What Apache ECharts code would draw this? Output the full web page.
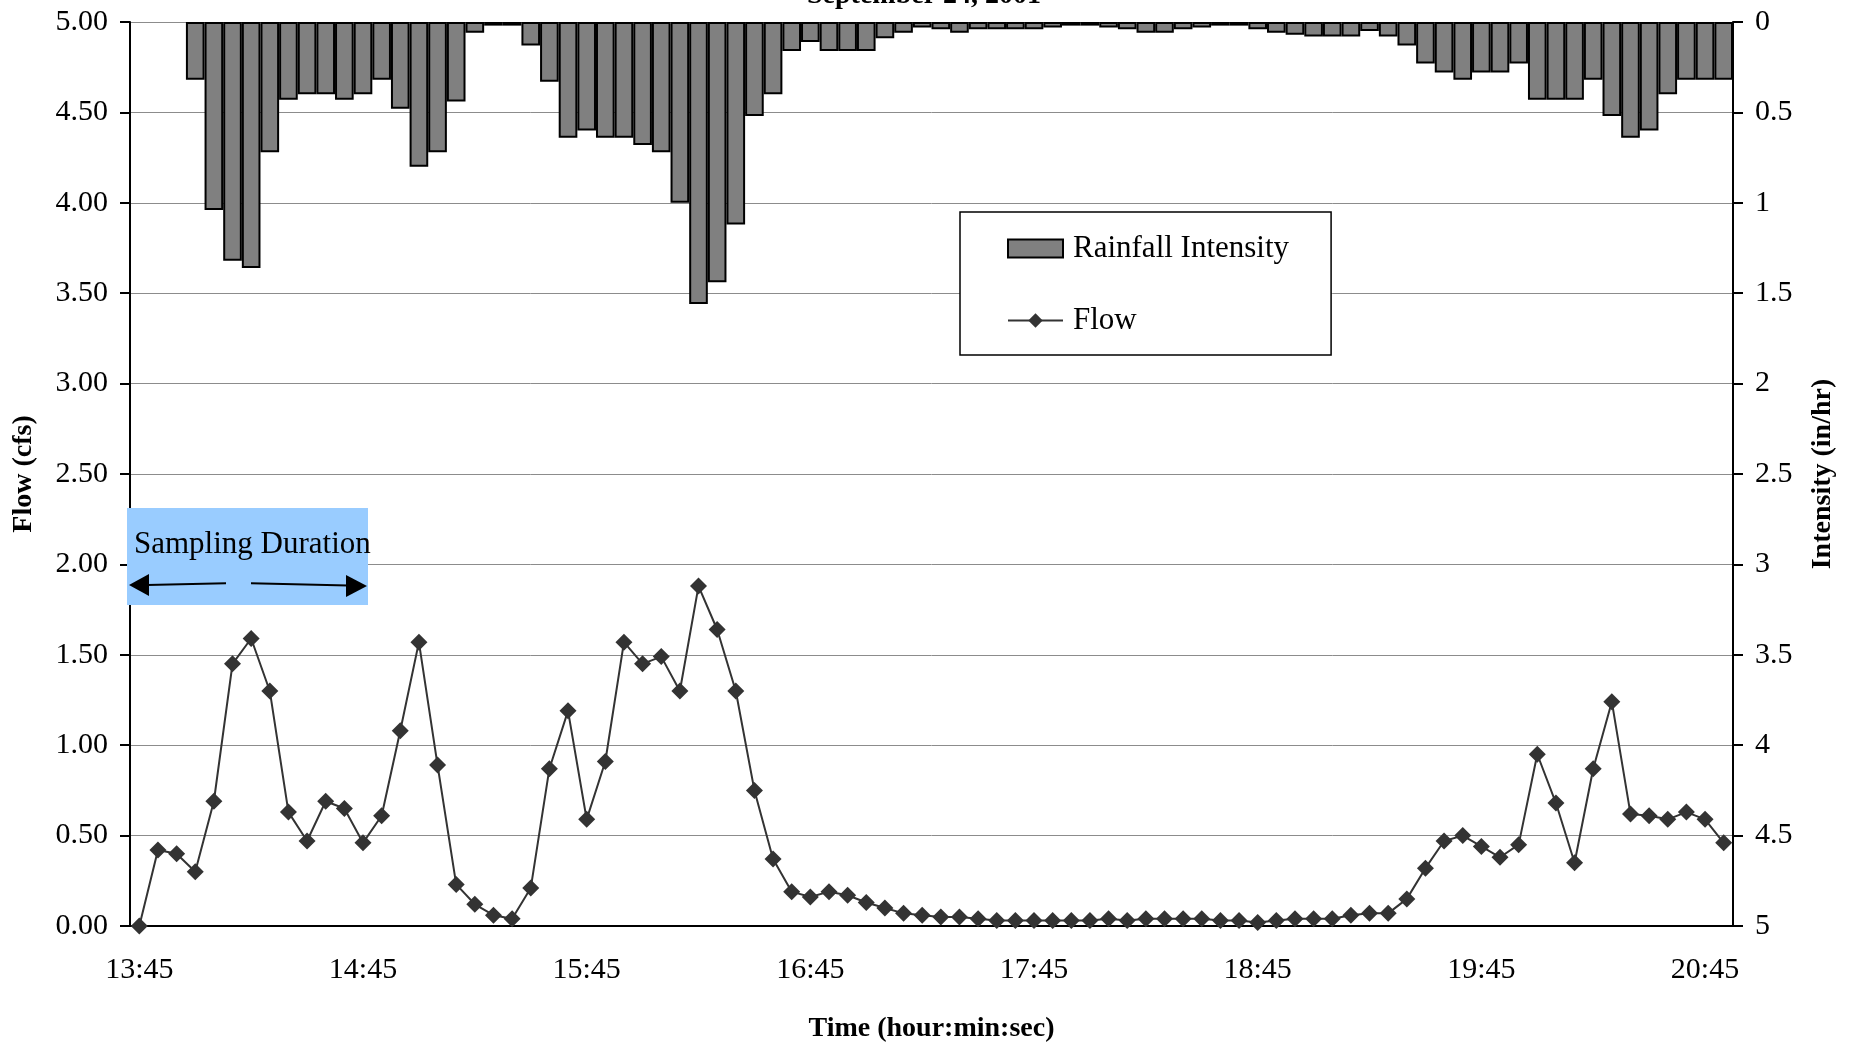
<!DOCTYPE html>
<html>
<head>
<meta charset="utf-8">
<title>Flow and Rainfall Intensity</title>
<script src="https://cdn.jsdelivr.net/npm/echarts@6/dist/echarts.min.js"></script>
<style>
	html, body { margin: 0; padding: 0; background: #fff; }
	#chart { width: 1856px; height: 1044px; }
</style>
</head>
<body>
<div id="chart"></div>
<script>
	// 5 minute steps, 13:45 - 20:50
	var times = [
		'13:45', '13:50', '13:55', '14:00', '14:05', '14:10', '14:15', '14:20', '14:25', '14:30', '14:35', '14:40',
		'14:45', '14:50', '14:55', '15:00', '15:05', '15:10', '15:15', '15:20', '15:25', '15:30', '15:35', '15:40',
		'15:45', '15:50', '15:55', '16:00', '16:05', '16:10', '16:15', '16:20', '16:25', '16:30', '16:35', '16:40',
		'16:45', '16:50', '16:55', '17:00', '17:05', '17:10', '17:15', '17:20', '17:25', '17:30', '17:35', '17:40',
		'17:45', '17:50', '17:55', '18:00', '18:05', '18:10', '18:15', '18:20', '18:25', '18:30', '18:35', '18:40',
		'18:45', '18:50', '18:55', '19:00', '19:05', '19:10', '19:15', '19:20', '19:25', '19:30', '19:35', '19:40',
		'19:45', '19:50', '19:55', '20:00', '20:05', '20:10', '20:15', '20:20', '20:25', '20:30', '20:35', '20:40',
		'20:45', '20:50'
	];

	// flow (cfs)
	var flow = [
		0.00, 0.42, 0.40, 0.30, 0.69, 1.45, 1.59, 1.30, 0.63, 0.47, 0.69, 0.65,
		0.46, 0.61, 1.08, 1.57, 0.89, 0.23, 0.12, 0.06, 0.04, 0.21, 0.87, 1.19,
		0.59, 0.91, 1.57, 1.45, 1.49, 1.30, 1.88, 1.64, 1.30, 0.75, 0.37, 0.19,
		0.16, 0.19, 0.17, 0.13, 0.10, 0.07, 0.06, 0.05, 0.05, 0.04, 0.03, 0.03,
		0.03, 0.03, 0.03, 0.03, 0.04, 0.03, 0.04, 0.04, 0.04, 0.04, 0.03, 0.03,
		0.02, 0.03, 0.04, 0.04, 0.04, 0.06, 0.07, 0.07, 0.15, 0.32, 0.47, 0.50,
		0.44, 0.38, 0.45, 0.95, 0.68, 0.35, 0.87, 1.24, 0.62, 0.61, 0.59, 0.63,
		0.59, 0.46
	];

	// rainfall intensity (in/hr)
	var rain = [
		null, null, null, 0.32, 1.04, 1.32, 1.36, 0.72, 0.43, 0.40, 0.40, 0.43,
		0.40, 0.32, 0.48, 0.80, 0.72, 0.44, 0.06, 0.02, 0.02, 0.13, 0.33, 0.64,
		0.60, 0.64, 0.64, 0.68, 0.72, 1.00, 1.56, 1.44, 1.12, 0.52, 0.40, 0.16,
		0.11, 0.16, 0.16, 0.16, 0.09, 0.06, 0.03, 0.04, 0.06, 0.04, 0.04, 0.04,
		0.04, 0.03, 0.02, 0.02, 0.03, 0.04, 0.06, 0.06, 0.04, 0.03, 0.02, 0.02,
		0.04, 0.06, 0.07, 0.08, 0.08, 0.08, 0.05, 0.08, 0.13, 0.23, 0.28, 0.32,
		0.28, 0.28, 0.23, 0.43, 0.43, 0.43, 0.32, 0.52, 0.64, 0.60, 0.40, 0.32,
		0.32, 0.32
	];

	var FONT = 'Liberation Serif';
	var axisLine = { show: true, lineStyle: { color: '#000', width: 2 } };
	var tickStyle = { color: '#000', width: 2 };
	var labelStyle = { fontFamily: FONT, fontSize: 30, color: '#000' };
	var nameStyle = { fontFamily: FONT, fontSize: 28, fontWeight: 'bold', color: '#000' };

	var chart = echarts.init(document.getElementById('chart'));

	var option = {
		animation: false,
		backgroundColor: '#fff',
		title: {
			text: 'September 24, 2001',
			left: 807,
			top: -18,
			padding: 0,
			textStyle: nameStyle
		},
		legend: {
			orient: 'vertical',
			left: 960,
			top: 212,
			itemWidth: 55,
			itemHeight: 18,
			itemGap: 41,
			padding: [21, 42, 19, 47],
			borderColor: '#000',
			borderWidth: 1.5,
			backgroundColor: '#fff',
			textStyle: { fontFamily: FONT, fontSize: 31, color: '#000', lineHeight: 30, padding: [0, 0, 0, 5] },
			data: [
				{ name: 'Rainfall Intensity', icon: 'rect', itemStyle: { color: '#808080', borderColor: '#000', borderWidth: 2 } },
				{ name: 'Flow' }
			]
		},
		// fixed plot box, no auto shrinking for the axis names
		grid: { left: 130, right: 123, top: 22, bottom: 118, outerBoundsMode: 'none' },
		xAxis: {
			type: 'category',
			data: times,
			boundaryGap: true,
			name: 'Time (hour:min:sec)',
			nameLocation: 'middle',
			nameGap: 89,
			nameTextStyle: nameStyle,
			axisLine: axisLine,
			axisTick: { interval: 0, length: 10, lineStyle: tickStyle },
			axisLabel: Object.assign({ interval: 11, margin: 29 }, labelStyle),
			splitLine: { show: false }
		},
		yAxis: [{
			type: 'value',
			min: 0,
			max: 5,
			interval: 0.5,
			name: 'Flow (cfs)',
			nameLocation: 'middle',
			nameGap: 92,
			nameRotate: 90,
			nameTextStyle: nameStyle,
			axisLine: axisLine,
			axisTick: { show: true, length: 10, lineStyle: tickStyle },
			axisLabel: Object.assign({ margin: 22, formatter: function (v) { return v.toFixed(2); } }, labelStyle),
			splitLine: { show: true, lineStyle: { color: '#8c8c8c', width: 1 } }
		}, {
			type: 'value',
			position: 'right',
			inverse: true,
			min: 0,
			max: 5,
			interval: 0.5,
			name: 'Intensity (in/hr)',
			nameLocation: 'middle',
			nameGap: 76,
			nameRotate: 90,
			nameTextStyle: nameStyle,
			axisLine: axisLine,
			axisTick: { show: true, length: 10, lineStyle: tickStyle },
			axisLabel: Object.assign({ margin: 22, formatter: function (v) { return String(v); } }, labelStyle),
			splitLine: { show: false }
		}],
		series: [{
			name: 'Rainfall Intensity',
			type: 'bar',
			yAxisIndex: 1,
			data: rain,
			barCategoryGap: '0%',
			itemStyle: { color: '#808080', borderColor: '#000', borderWidth: 2 }
		}, {
			name: 'Flow',
			type: 'line',
			yAxisIndex: 0,
			data: flow,
			symbol: 'diamond',
			symbolSize: 17,
			showAllSymbol: true,
			lineStyle: { color: '#333', width: 2 },
			itemStyle: { color: '#333' },
			z: 3
		}],
		// "Sampling Duration" note with its arrows
		graphic: [
			{ type: 'rect', z: 100, shape: { x: 127, y: 508, width: 241, height: 97 }, style: { fill: '#99ccff' } },
			{ type: 'text', z: 101, x: 134, y: 545, style: { text: 'Sampling Duration', font: '31px "Liberation Serif"', fill: '#000', verticalAlign: 'middle' } },
			{ type: 'line', z: 101, shape: { x1: 147, y1: 585, x2: 226, y2: 583.3 }, style: { stroke: '#000', lineWidth: 2 } },
			{ type: 'polygon', z: 101, shape: { points: [[129, 585], [149, 574], [149, 596]] }, style: { fill: '#000' } },
			{ type: 'line', z: 101, shape: { x1: 251, y1: 583.3, x2: 348, y2: 585.5 }, style: { stroke: '#000', lineWidth: 2 } },
			{ type: 'polygon', z: 101, shape: { points: [[367, 586], [346, 575], [346, 597]] }, style: { fill: '#000' } }
		]
	};

	chart.setOption(option);
</script>
</body>
</html>
